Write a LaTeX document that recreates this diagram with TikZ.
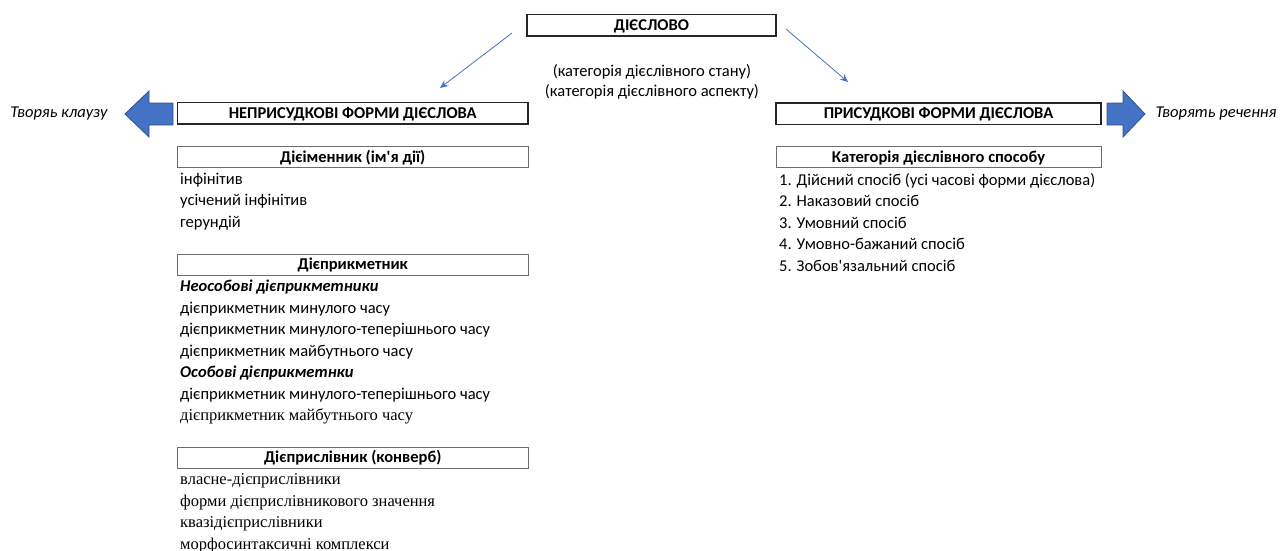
\documentclass[tikz,border=0pt]{standalone}
\usepackage{fontspec}
\setmainfont{Carlito}[Ligatures=TeXOff]
\newfontfamily\serifu{Liberation Serif}[Ligatures=TeXOff]
\usetikzlibrary{arrows.meta}
\definecolor{obl}{HTML}{4472C4}
\definecolor{obld}{HTML}{2F528F}
\begin{document}
\begin{tikzpicture}[x=1pt,y=-1pt,
  every node/.style={font=\fontsize{16.5}{19}\selectfont, inner sep=0pt},
  mainbox/.style={draw=black!85, line width=1.5pt, minimum height=21.5pt, text height=10.6pt, text depth=0pt, font=\fontsize{16.5}{19}\selectfont\bfseries},
  subbox/.style={draw=gray!85!black, line width=1pt, minimum height=21pt, text height=10.6pt, text depth=0pt, font=\fontsize{16.5}{19}\selectfont\bfseries},
  item/.style={anchor=base west},
  sitem/.style={anchor=base west, font=\fontsize{16.5}{19}\selectfont\serifu},
  bitem/.style={anchor=base west, font=\fontsize{16.5}{19}\selectfont\bfseries\itshape},
  conn/.style={draw=obl, line width=0.8pt, -{Stealth[length=8pt,width=7pt]}},
  blockarrow/.style={fill=obl, draw=obld, line width=0.8pt}
]
\useasboundingbox (0,0) rectangle (1280,551);

% top
\node[mainbox, minimum width=249pt] (verb) at (651.5,25.5) {ДІЄСЛОВО};
\node (cat1) at (652,72) {(категорія дієслівного стану)};
\node (cat2) at (652,92) {(категорія дієслівного аспекту)};

\node[mainbox, minimum width=350.5pt] (np) at (352.75,113.25) {НЕПРИСУДКОВІ ФОРМИ ДІЄСЛОВА};
\node[mainbox, minimum width=325pt] (p) at (938.5,113.5) {ПРИСУДКОВІ ФОРМИ ДІЄСЛОВА};

\coordinate (l1) at (512,33);
\coordinate (l2) at (440,88);
\coordinate (r1) at (786,29);
\coordinate (r2) at (848,82);
\draw[conn] (l1) -- (l2);
\draw[conn] (r1) -- (r2);

% block arrows
\draw[blockarrow] (125,114) -- (149,91) -- (149,103) -- (173,103) -- (173,125) -- (149,125) -- (149,137) -- cycle;
\draw[blockarrow] (1145,114) -- (1123,91) -- (1123,103) -- (1107,103) -- (1107,125) -- (1123,125) -- (1123,137) -- cycle;
\node[font=\fontsize{16.5}{19}\selectfont\itshape] (tl) at (59,114) {Творяь клаузу};
\node[font=\fontsize{16.5}{19}\selectfont\itshape] (tr) at (1216,114) {Творять речення};

% left column
\node[subbox, minimum width=350.5pt] (b1) at (352.75,157) {Дієіменник (ім'я дії)};
\node[item] (i11) at (180,184) {інфінітив};
\node[item] (i12) at (180,205.5) {усічений інфінітив};
\node[item] (i13) at (180,227) {герундій};

\node[subbox, minimum width=350.5pt] (b2) at (352.75,264.5) {Дієприкметник};
\node[bitem] (i21) at (180,291.5) {Неособові дієприкметники};
\node[item] (i22) at (180,313) {дієприкметник минулого часу};
\node[item] (i23) at (180,334.5) {дієприкметник минулого-теперішнього часу};
\node[item] (i24) at (180,356) {дієприкметник майбутнього часу};
\node[bitem] (i25) at (180,377.5) {Особові дієприкметнки};
\node[item] (i26) at (180,399) {дієприкметник минулого-теперішнього часу};
\node[sitem] (i27) at (180,420.5) {дієприкметник майбутнього часу};

\node[subbox, minimum width=350.5pt] (b3) at (352.75,457.5) {Дієприслівник (конверб)};
\node[sitem] (i31) at (180,484.5) {власне-дієприслівники};
\node[sitem] (i32) at (180,506) {форми дієприслівникового значення};
\node[sitem] (i33) at (180,527.5) {квазідієприслівники};
\node[sitem] (i34) at (180,549) {морфосинтаксичні комплекси};

% right column
\node[subbox, minimum width=325pt] (b4) at (938.5,157) {Категорія дієслівного способу};
\node[item] (j1) at (779,185) {1. Дійсний спосіб (усі часові форми дієслова)};
\node[item] (j2) at (779,206.5) {2. Наказовий спосіб};
\node[item] (j3) at (779,228) {3. Умовний спосіб};
\node[item] (j4) at (779,249.5) {4. Умовно-бажаний спосіб};
\node[item] (j5) at (779,271) {5. Зобов'язальний спосіб};
\end{tikzpicture}
\end{document}
